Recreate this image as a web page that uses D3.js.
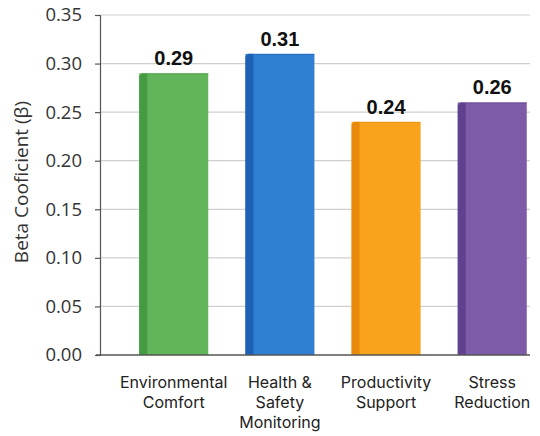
<!DOCTYPE html>
<html>
<head>
<meta charset="utf-8">
<script src="https://cdn.jsdelivr.net/npm/d3@7"></script>
<style>
  html, body { margin: 0; padding: 0; background: #fff; }
  svg { display: block; }
</style>
</head>
<body>
<svg id="chart" width="540" height="436"></svg>
<script>
// Regression coefficients per intervention category
const categories = [
  ["Environmental", "Comfort"],
  ["Health &", "Safety", "Monitoring"],
  ["Productivity", "Support"],
  ["Stress", "Reduction"]
];
const categoryKeys = ["Environmental Comfort", "Health & Safety Monitoring", "Productivity Support", "Stress Reduction"];
const betaValues = [0.29, 0.31, 0.24, 0.26];
const valueLabels = ["0.29", "0.31", "0.24", "0.26"];
const yTicks = [0, 0.05, 0.10, 0.15, 0.20, 0.25, 0.30, 0.35];
const faceColors = ["#62b45a", "#2f7fd2", "#f8a31b", "#7d5ba8"];
const sideColors = ["#449b42", "#1c61b4", "#e98a0c", "#5f418f"];

const svg = d3.select("#chart");
const axisLeft = 100, axisRight = 530, axisTop = 15, axisBottom = 355;

const y = d3.scaleLinear().domain([0, 0.35]).range([axisBottom, axisTop]);
const x = d3.scaleBand().domain(categoryKeys).range([118, 548])
  .paddingInner(0.35).paddingOuter(0.2);

// Gridlines
svg.append("g").selectAll("line").data(yTicks.filter(d => d > 0)).join("line")
  .attr("x1", axisLeft).attr("x2", axisRight)
  .attr("y1", d => y(d)).attr("y2", d => y(d))
  .attr("stroke", "#cfcfcf").attr("stroke-width", 1.2);

// Y axis
const yAxis = svg.append("g").attr("transform", `translate(${axisLeft},0)`)
  .call(d3.axisLeft(y).tickValues(yTicks).tickFormat(d3.format(".2f")).tickSize(5).tickPadding(13));
yAxis.select(".domain").attr("stroke", "#555").attr("stroke-width", 1.2);
yAxis.selectAll(".tick line").attr("stroke", "#555").attr("stroke-width", 1.2);
yAxis.selectAll(".tick text")
  .attr("font-family", "'Open Sans', sans-serif").attr("font-size", 18.5)
  .attr("fill", "#333");

// Bars with a shaded left edge
const bars = svg.append("g").selectAll("g").data(betaValues).join("g");
const side = 8;
bars.append("rect")
  .attr("x", (d, i) => x(categoryKeys[i]))
  .attr("y", d => y(d))
  .attr("width", x.bandwidth())
  .attr("height", d => axisBottom - y(d))
  .attr("fill", (d, i) => faceColors[i]);
bars.append("path")
  .attr("d", (d, i) => {
    const x0 = x(categoryKeys[i]), t = y(d);
    return `M${x0},${t + 3} L${x0 + 3},${t} L${x0 + side},${t} L${x0 + side},${axisBottom} L${x0},${axisBottom} Z`;
  })
  .attr("fill", (d, i) => sideColors[i]);
bars.append("line")
  .attr("x1", (d, i) => x(categoryKeys[i]) + side)
  .attr("x2", (d, i) => x(categoryKeys[i]) + x.bandwidth())
  .attr("y1", d => y(d) + 0.5).attr("y2", d => y(d) + 0.5)
  .attr("stroke", (d, i) => sideColors[i]).attr("stroke-opacity", 0.6);

// Value labels
bars.append("text")
  .attr("x", (d, i) => x(categoryKeys[i]) + x.bandwidth() / 2)
  .attr("y", d => y(d) - 8)
  .attr("text-anchor", "middle")
  .attr("font-family", "'Liberation Sans', Arial, sans-serif")
  .attr("font-weight", "bold").attr("font-size", 20)
  .attr("fill", "#111")
  .text((d, i) => valueLabels[i]);

// Baseline
svg.append("line")
  .attr("x1", axisLeft - 4).attr("x2", axisRight)
  .attr("y1", axisBottom).attr("y2", axisBottom)
  .attr("stroke", "#555").attr("stroke-width", 1.4);

// Category labels, one text per line
const catLines = categories.flatMap((lines, i) =>
  lines.map((t, j) => ({ t, j, key: categoryKeys[i] })));
svg.append("g").selectAll("text").data(catLines).join("text")
  .attr("x", d => x(d.key) + x.bandwidth() / 2)
  .attr("y", d => 388 + d.j * 20)
  .attr("text-anchor", "middle")
  .attr("font-family", "Inter, sans-serif").attr("font-size", 16)
  .attr("fill", "#222")
  .text(d => d.t);

// Y axis title
svg.append("text")
  .attr("transform", `translate(28,182) rotate(-90)`)
  .attr("text-anchor", "middle")
  .attr("font-family", "'Open Sans', sans-serif").attr("font-size", 19)
  .attr("fill", "#333")
  .text("Beta Cooficient (β)");
</script>
</body>
</html>
